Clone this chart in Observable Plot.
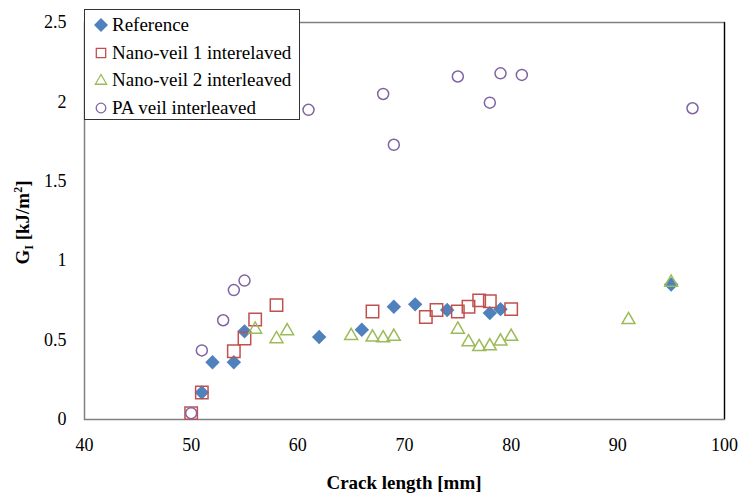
<!DOCTYPE html>
<html><head><meta charset="utf-8">
<script src="https://cdn.jsdelivr.net/npm/d3@7"></script>
<script src="https://cdn.jsdelivr.net/npm/@observablehq/plot@0.6"></script>
<style>
body{margin:0;background:#fff;}
#wrap{position:relative;width:739px;height:496px;font-family:"Liberation Serif","Times New Roman",serif;}
#legend{position:absolute;left:84px;top:9px;width:216px;height:111px;border:1px solid #333;background:#fff;box-sizing:border-box;}
.row{position:absolute;left:0;height:20px;display:flex;align-items:center;font-size:19px;color:#000;white-space:nowrap;}
.row svg{margin-left:9px;margin-right:4px;}
</style></head>
<body><div id="wrap"></div>
<script>
const seriesNames = ["Reference","Nano-veil 1 interelaved","Nano-veil 2 interleaved","PA veil interleaved"];
const refX = [51,52,54,55,62,66,69,71,74,78,79,95];
const refY = [0.17,0.36,0.36,0.555,0.52,0.565,0.71,0.725,0.69,0.67,0.695,0.85];
const nv1X = [50,51,54,55,56,58,67,72,73,75,76,77,78,80];
const nv1Y = [0.04,0.17,0.43,0.51,0.63,0.72,0.68,0.645,0.69,0.68,0.71,0.75,0.745,0.695];
const nv2X = [56,58,59,65,67,68,69,75,76,77,78,79,80,91,95];
const nv2Y = [0.58,0.52,0.57,0.54,0.53,0.525,0.535,0.58,0.50,0.47,0.475,0.505,0.535,0.64,0.875];
const paX = [50,51,53,54,55,61,68,69,75,78,79,81,97];
const paY = [0.04,0.435,0.625,0.815,0.875,1.95,2.05,1.73,2.16,1.995,2.18,2.17,1.96];
const xTicks = [40,50,60,70,80,90,100];
const yTicks = [0,0.5,1,1.5,2,2.5];
const colors = ["#4f81bd","#c0504d","#9bbb59","#8064a2"];

const toRows = (xs, ys) => xs.map((x,i)=>({x, y: ys[i]}));
const ref = toRows(refX, refY), nv1 = toRows(nv1X, nv1Y), nv2 = toRows(nv2X, nv2Y), pa = toRows(paX, paY);

const plot = Plot.plot({
  width: 739, height: 496,
  marginLeft: 84, marginRight: 15, marginTop: 22, marginBottom: 77,
  style: {fontFamily: '"Liberation Serif","Times New Roman",serif', fontSize: "18px", color: "#000", background: "#fff"},
  x: {domain: [40,100], ticks: xTicks},
  y: {domain: [0,2.5], ticks: yTicks},
  marks: [
    Plot.frame({stroke: "#808080", strokeWidth: 1.5}),
    Plot.ruleX([100], {stroke: "#000", strokeWidth: 1.2}),
    Plot.axisX({ticks: xTicks, tickSize: 0, tickPadding: 19, label: null, tickFormat: d => String(d)}),
    Plot.axisY({ticks: yTicks, tickSize: 0, tickPadding: 18, label: null, tickFormat: d => String(d)}),
    Plot.dot(ref, {x: "x", y: "y", symbol: "diamond2", r: 6.5, fill: colors[0], stroke: "none"}),
    Plot.dot(nv1, {x: "x", y: "y", symbol: "square", r: 7, fill: "none", stroke: colors[1], strokeWidth: 1.5}),
    Plot.dot(nv2, {x: "x", y: "y", symbol: "triangle", r: 4.8, dy: 2, fill: "none", stroke: colors[2], strokeWidth: 1.5}),
    Plot.dot(pa, {x: "x", y: "y", symbol: "circle", r: 5.5, fill: "none", stroke: colors[3], strokeWidth: 1.5})
  ]
});
const wrap = document.getElementById("wrap");
wrap.appendChild(plot);

const xs = plot.scale("x"), ys = plot.scale("y");
const svg = d3.select(plot);
// x title
svg.append("text")
  .attr("x", (xs.apply(40)+xs.apply(100))/2).attr("y", 489)
  .attr("text-anchor","middle").attr("font-weight","bold").attr("font-size",19)
  .attr("fill","#000").text("Crack length [mm]");
// y title
const yt = svg.append("text")
  .attr("transform", `translate(29,${(ys.apply(0)+ys.apply(2.5))/2 + 2}) rotate(-90)`)
  .attr("text-anchor","middle").attr("font-weight","bold").attr("font-size",19).attr("fill","#000");
yt.append("tspan").text("G");
yt.append("tspan").attr("font-size",12).attr("dy",4).text("I");
yt.append("tspan").attr("dy",-4).text(" [kJ/m");
yt.append("tspan").attr("font-size",12).attr("dy",-7).text("2");
yt.append("tspan").attr("dy",7).text("]");

// legend
const legend = document.createElement("div");
legend.id = "legend";
const symTypes = [d3.symbolDiamond2, d3.symbolSquare, d3.symbolTriangle, d3.symbolCircle];
const rs = [6.3,5.3,4.2,4.8];
seriesNames.forEach((name,i)=>{
  const row = document.createElement("div");
  row.className = "row";
  row.style.top = (5 + i*27.5) + "px";
  const s = d3.create("svg").attr("width",14).attr("height",14);
  const path = d3.symbol().type(symTypes[i]).size(Math.PI*rs[i]*rs[i])();
  s.append("path").attr("transform","translate(7,"+(i===2?8:7)+")").attr("d", path)
    .attr("fill", i===0 ? colors[0] : "none").attr("stroke", i===0 ? "none" : colors[i]).attr("stroke-width",1.3);
  row.appendChild(s.node());
  const t = document.createElement("span"); t.textContent = name; row.appendChild(t);
  legend.appendChild(row);
});
wrap.appendChild(legend);
</script></body></html>
